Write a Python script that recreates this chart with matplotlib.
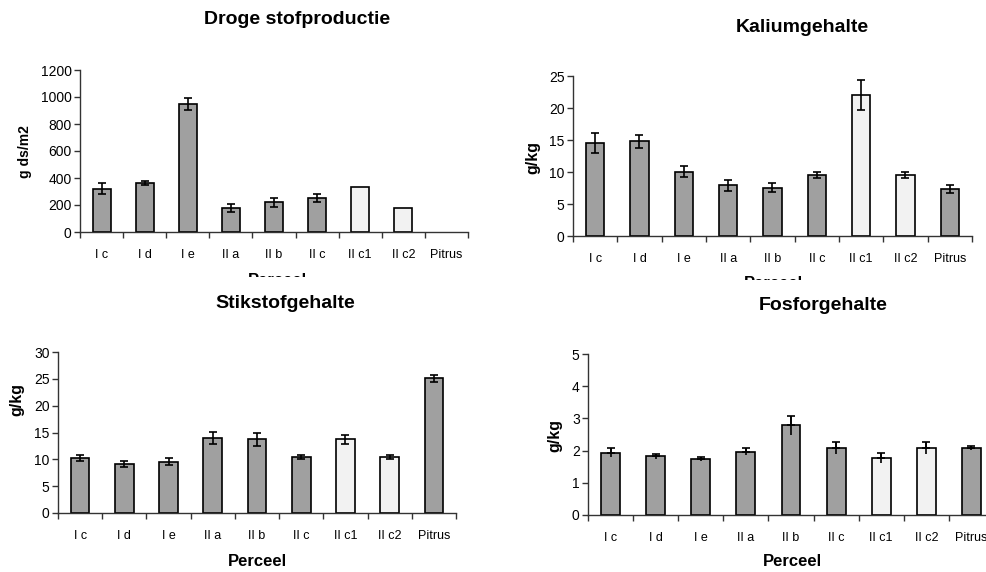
"""
Vier staafdiagrammen per perceel: droge stof, kalium, stikstof en fosfor
"""

import numpy as np
import matplotlib
matplotlib.use('Agg')
import matplotlib.pyplot as plt
from matplotlib.patches import Rectangle

plt.rcParams['font.family'] = ['Liberation Sans', 'DejaVu Sans']

percelen = ['I c', 'I d', 'I e', 'II a', 'II b', 'II c', 'II c1', 'II c2', 'Pitrus']
# welke staven licht gekleurd zijn
licht = [False, False, False, False, False, False, True, True, False]

droge_stof = [320, 365, 945, 180, 220, 255, 330, 175, 0]
droge_stof_err = [40, 15, 45, 30, 35, 30, 0, 0, 0]

kalium = [14.5, 14.8, 10.05, 7.9, 7.55, 9.5, 22.0, 9.5, 7.35]
kalium_err = [1.6, 1.0, 0.85, 0.8, 0.75, 0.45, 2.3, 0.45, 0.6]

stikstof = [10.2, 9.1, 9.55, 14.0, 13.7, 10.5, 13.7, 10.5, 25.1]
stikstof_err = [0.55, 0.6, 0.65, 1.1, 1.2, 0.4, 0.9, 0.4, 0.7]

fosfor = [1.94, 1.82, 1.74, 1.97, 2.78, 2.08, 1.77, 2.08, 2.08]
fosfor_err = [0.15, 0.07, 0.05, 0.12, 0.28, 0.2, 0.15, 0.2, 0.05]

W, H = 987, 572
DONKER = '#a0a0a0'
LICHT = '#f2f2f2'


def px_axes(fig, left, right, top, bottom):
    """axes op pixelposities"""
    return fig.add_axes([left / W, 1 - bottom / H, (right - left) / W, (bottom - top) / H])


def draw_panel(ax, values, errors, ymax, ystep, upper_only=False):
    x = np.arange(len(values))
    kleuren = [LICHT if l else DONKER for l in licht]
    lw = [1.2 if v > 0 else 0 for v in values]
    ax.bar(x, values, width=0.42, color=kleuren, edgecolor='black', linewidth=lw, zorder=2)

    err = np.array(errors, dtype=float)
    mask = err > 0
    xs = x[mask]
    vals = np.array(values, dtype=float)[mask]
    err = err[mask]
    if upper_only:
        ax.errorbar(xs, vals, yerr=err, fmt='none', ecolor='black', elinewidth=1.2, capsize=0, zorder=3)
        ax.errorbar(xs, vals, yerr=[np.zeros_like(err), err], fmt='none', ecolor='black',
                    elinewidth=1.2, capsize=3, capthick=1.2, zorder=3)
    else:
        ax.errorbar(xs, vals, yerr=err, fmt='none', ecolor='black', elinewidth=1.2,
                    capsize=3, capthick=1.2, zorder=3)

    ax.set_xlim(-0.5, len(values) - 0.5)
    ax.set_ylim(0, ymax)
    ax.set_yticks(np.arange(0, ymax + ystep / 2, ystep))
    ax.set_xticks(np.arange(len(values) + 1) - 0.5)
    ax.set_xticklabels([])
    ax.set_xticks(x, minor=True)
    ax.set_xticklabels(percelen, minor=True)
    ax.tick_params(axis='x', which='major', direction='out', length=4, width=1, color='#333333')
    ax.tick_params(axis='x', which='minor', length=0, pad=12, labelsize=9)
    ax.tick_params(axis='y', direction='out', length=4, width=1, color='#333333', labelsize=10, pad=2)
    for s in ['top', 'right']:
        ax.spines[s].set_visible(False)
    for s in ['left', 'bottom']:
        ax.spines[s].set_color('#333333')
        ax.spines[s].set_linewidth(1.0)
    ax.patch.set_alpha(0)


fig = plt.figure(figsize=(W / 100, H / 100), dpi=100)

ax1 = px_axes(fig, 80, 468, 70, 232)
draw_panel(ax1, droge_stof, droge_stof_err, 1200, 200)
ax2 = px_axes(fig, 573, 972, 76, 236)
draw_panel(ax2, kalium, kalium_err, 25, 5)
ax3 = px_axes(fig, 58, 456, 352, 513)
draw_panel(ax3, stikstof, stikstof_err, 30, 5)
ax4 = px_axes(fig, 588, 994, 354, 515)
draw_panel(ax4, fosfor, fosfor_err, 5, 1, upper_only=True)


def ftext(x, y, s, **kw):
    fig.text(x / W, 1 - y / H, s, ha='center', va='center', fontweight='bold', **kw)


ftext(297, 20, 'Droge stofproductie', fontsize=14)
ftext(802, 28, 'Kaliumgehalte', fontsize=14)
ftext(285, 303, 'Stikstofgehalte', fontsize=14)
ftext(823, 305, 'Fosforgehalte', fontsize=14)

ftext(25, 152, 'g ds/m2', fontsize=10, rotation=90)
ftext(533, 157, 'g/kg', fontsize=11.5, rotation=90)
ftext(17, 400, 'g/kg', fontsize=11.5, rotation=90)
ftext(555, 435, 'g/kg', fontsize=11.5, rotation=90)

ftext(277, 280, 'Perceel', fontsize=12)
ftext(773, 284, 'Perceel', fontsize=12)
ftext(257, 561, 'Perceel', fontsize=12)
ftext(792, 562, 'Perceel', fontsize=12)

# bovenste grafieken worden onderaan afgesneden door de onderste
for (x0, x1, ycut) in [(0, 490, 277), (490, W, 280)]:
    fig.patches.append(Rectangle((x0 / W, 1 - 292 / H), (x1 - x0) / W, (292 - ycut) / H,
                                 transform=fig.transFigure, facecolor='white',
                                 edgecolor='none', zorder=10))

fig.savefig('out.png', dpi=100)
